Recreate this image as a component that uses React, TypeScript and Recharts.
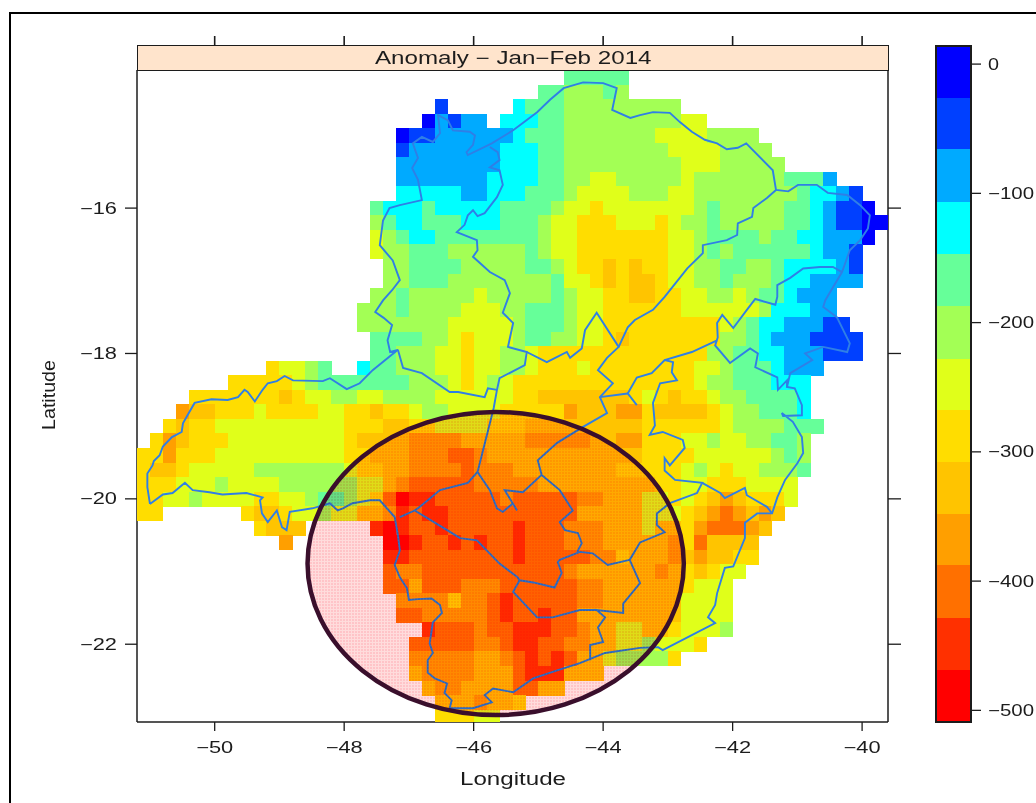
import { Scatter, ScatterChart, XAxis, YAxis } from 'recharts'

const lonTicks = [-50, -48, -46, -44, -42, -40]
const latTicks = [-22, -20, -18, -16]
const legendTicks = [0, -100, -200, -300, -400, -500]

// colour bands, top of the legend to the bottom
const bandColors = ['#0000FF', '#0040FF', '#00AAFF', '#00FFFF', '#66FF99', '#A3FF55', '#E0FF1A', '#FFDD00', '#FFC400', '#FF9F00', '#FF7000', '#FF3000', '#FF0000']
const bandValues = [-6, -46, -86, -127, -167, -207, -248, -288, -328, -368, -408, -449, -489]

// one row per 0.2 degree of latitude from -14.2 down: first column, then a band code per cell (0-9, a, b, c)
const anomalyRows: [number, string][] = [
  [33, '44444'],
  [31, '44 555 4 5'],
  [23, '1 ..... 3 4 44 555555555'],
  [22, '0 2 1 22 . 333 44 555555555 66'],
  [20, '0 11 222222 3 444 5555555 6666 5555'],
  [20, '1 2222222 333 44 55555555 6666 5555'],
  [20, '22222222 333 44 555555555 666 55555'],
  [20, '2222222 3333 44 55 66 55555 6 5555555 444 2'],
  [20, '33333 22 333 444 5 6666 555 66 55555555 4 33 2 1'],
  [18, '4 333 4 33333 4444 5 66 7 6666666 5 4 55555 44 3 2 11 0'],
  [18, '5 4 33 444 333 444 5 66 777 666 7 6 55 4 55555 44 3 2 11 00'],
  [18, '6 5 4 33 44444444 5 66 7777777 66 5 4444 5 44 33 222 0'],
  [18, '6 55 444 555555 4 5 66 7777777 66 5 4 5 444444 3 22 1'],
  [19, '55 4444 55555 44 5 6 77 8 7 8 77 66 55 44 55 4 3333 2 1'],
  [19, '55 444 55555555 4 66 7 8 7 88 7 66 55 4 555 4 33 2222'],
  [18, '55 4 55555 6 55555 4 5 66 77 88 77 66 55 6 5 44 3 222'],
  [17, '555 4 5555 666 55 444 5 66 777777 666666 5 333 22'],
  [17, '5555555 66666 5 444 5 66 777777777 6 5 4 33 222 11'],
  [18, '4444 55 6 7 666 5 44 55 66 7 8 7777777 55 4 3 222 1111'],
  [18, '44 555 66 7 66 55 6 7777777777777 55 44 33 222 111'],
  [10, '7 66 5 4 .. 3 44 555 66 7 66 55 6 777 6 77777777 66 5 444 3 222'],
  [7, '77777 6 5 4444444 555 6 7 6 5 6 77777777777777 6 55 444 333'],
  [4, '7777777 8 7 66 55 66 5555 666666 77 8888888 7 6 7 8 77 6 55 4444 3'],
  [3, '9 88 777 6 7777 66 77 8 77 6 55 6666 77777 9 888 99 7 8888 7 6 55 444 3'],
  [2, '7 8 77 6666666666 777 88 77 6666 777 8 8888 888 8 777777 6 5555 44 4'],
  [1, '7 9 8 777 666666666 7 8888 9999 88888 99999 88 99 777 66 5 66 55 44 5'],
  [0, '77 9 777 6666666666 77 888 999 aa 9 8888888888 88 777 7 666666 5 4 5'],
  [0, '7 88 7 66666 5555555 6 77 88 9999 a 999 88888888 777 77 6 5 6 7 66 55 5 4'],
  [0, '777 666 5 6666 55555 5 66 8 9 aaaaa 99999 888888 888 77 66 777 6666'],
  [0, '77 66 5 6666 77 66 5 4 4 5 6 7 a c bb aa aaa 9 aaaaa 99 888 66 7 6 7 8 9 8 77 7 6'],
  [0, '77 ...... 7 88 7 66 5 66 88 9 b a bb aaaaaaaaa a 88888 666 7 8 9 a 9 8 9 8'],
  [9, '7 88 8 ..... b c b aa b aaaaa b a aa 9 99 888 6 88 7 9 aaa 9 8'],
  [11, '9 ....... cc b aa b a b aa b aaa 9 99 88888 9 7 a 888 8'],
  [19, 'bb aaaaaaaa b aaa a a 99 7 888 9 8 9 88 77'],
  [19, 'a 99 aaaaaaaaa aa 9 88 8888 9 8 7 8 7 66'],
  [19, 'aa 8 aaa 999 aaaaaa 99 888888 7 666'],
  [20, '9999 7 99 a b aaaaa 99 888888 6666'],
  [20, 'aa 99999 a b aa b aa 88 888888 6666'],
  [22, 'b aaa 9 aa bbb aa 9 88 66 88 7 666 5'],
  [21, 'aaaaa 99 a bb aa 9 9 88 66 5 666 7'],
  [21, '99 999 88 9 a b a b a 88 6 55 55 7'],
  [21, '8 9999 888 a bbb 888'],
  [22, '8 99 8888 aa 88'],
  [23, '888 9 88 7'],
  [23, '777 66'],
]

// state outline and internal region borders, read as [lon, lat]
const stateOutline = [
  [-51.0, -20.07], [-51.04, -19.84], [-51.04, -19.65], [-50.96, -19.54], [-50.94, -19.48], [-50.85, -19.4], [-50.8, -19.28], [-50.66, -19.15],
  [-50.51, -19.08], [-50.49, -18.96], [-50.42, -18.85], [-50.31, -18.68], [-50.05, -18.63], [-49.8, -18.64], [-49.64, -18.6], [-49.54, -18.5],
  [-49.49, -18.53], [-49.38, -18.66], [-49.26, -18.5], [-49.18, -18.41], [-49.04, -18.38], [-48.92, -18.31], [-48.79, -18.37], [-48.33, -18.38],
  [-48.22, -18.34], [-47.96, -18.49], [-47.76, -18.41], [-47.56, -18.23], [-47.17, -17.95], [-47.29, -17.98], [-47.33, -17.82], [-47.26, -17.61],
  [-47.39, -17.51], [-47.52, -17.43], [-47.4, -17.27], [-47.26, -17.13], [-47.14, -16.99], [-47.25, -16.72], [-47.45, -16.51], [-47.4, -16.17],
  [-47.3, -16.0], [-47.14, -15.96], [-46.8, -15.89], [-46.86, -15.61], [-46.95, -15.45], [-46.86, -15.31], [-46.94, -15.11], [-46.8, -15.02],
  [-46.63, -15.09], [-46.52, -14.97], [-46.55, -14.72], [-46.4, -14.79], [-46.32, -14.93], [-46.06, -14.95], [-45.98, -15.0], [-46.01, -15.13],
  [-46.11, -15.23], [-46.09, -15.27], [-45.72, -15.11], [-45.39, -14.93], [-45.02, -14.68], [-44.82, -14.51], [-44.61, -14.35], [-44.31, -14.27],
  [-44.0, -14.28], [-43.79, -14.35], [-43.86, -14.65], [-43.58, -14.76], [-43.43, -14.72], [-43.23, -14.68], [-42.97, -14.69], [-42.81, -14.82],
  [-42.63, -14.95], [-42.43, -15.06], [-42.24, -15.11], [-42.09, -15.19], [-41.92, -15.17], [-41.79, -15.11], [-41.38, -15.48], [-41.33, -15.75],
  [-41.14, -15.77], [-40.99, -15.68], [-40.7, -15.68], [-40.53, -15.79], [-40.23, -15.82], [-40.03, -15.96], [-39.88, -16.1], [-39.91, -16.28],
  [-40.03, -16.44], [-40.19, -16.58], [-40.31, -16.88], [-40.57, -17.27], [-40.6, -17.36], [-40.39, -17.5], [-40.19, -17.86], [-40.23, -17.98],
  [-40.6, -17.91], [-40.88, -18.0], [-40.77, -18.09], [-41.11, -18.27], [-41.16, -18.46], [-41.04, -18.48], [-40.93, -18.71], [-40.93, -18.85],
  [-41.22, -18.86], [-41.24, -18.82], [-41.07, -18.94], [-40.93, -19.15], [-40.91, -19.37], [-41.0, -19.51], [-41.19, -19.74], [-41.31, -19.98],
  [-41.39, -20.2], [-41.62, -20.2], [-41.81, -20.33], [-41.81, -20.54], [-41.93, -20.8], [-41.99, -20.93], [-42.12, -20.95], [-42.24, -21.3],
  [-42.27, -21.46], [-42.38, -21.63], [-42.27, -21.71], [-43.08, -22.08], [-43.15, -22.04], [-43.43, -22.05], [-43.97, -22.12], [-44.36, -22.26],
  [-44.71, -22.36], [-45.08, -22.47], [-45.39, -22.66], [-45.7, -22.61], [-45.83, -22.7], [-45.72, -22.8], [-46.01, -22.88], [-46.37, -22.88],
  [-46.34, -22.77], [-46.45, -22.67], [-46.41, -22.54], [-46.6, -22.47], [-46.71, -22.39], [-46.71, -22.22], [-46.63, -22.12], [-46.68, -21.99],
  [-46.63, -21.7], [-46.49, -21.57], [-46.52, -21.46], [-46.65, -21.37], [-46.86, -21.38], [-47.0, -21.39], [-47.03, -21.23], [-47.14, -21.08],
  [-47.22, -20.91], [-47.14, -20.71], [-47.17, -20.5], [-47.22, -20.25], [-47.45, -20.02], [-47.6, -20.02], [-47.87, -20.06], [-48.02, -20.13],
  [-48.1, -20.16], [-48.22, -20.06], [-48.49, -20.13], [-48.84, -20.18], [-48.89, -20.43], [-48.96, -20.39], [-49.04, -20.16], [-49.18, -20.32],
  [-49.27, -20.2], [-49.3, -20.02], [-49.26, -19.98], [-49.51, -19.92], [-49.88, -19.94], [-50.08, -19.91], [-50.34, -19.88], [-50.46, -19.78],
  [-50.65, -19.92], [-50.8, -19.94], [-51.0, -20.07],
]
const regionBorders = [
  [[-45.75, -15.16], [-45.63, -15.23], [-45.6, -15.34], [-45.75, -15.44], [-45.6, -15.48], [-45.55, -15.68], [-45.64, -15.85], [-45.83, -16.07], [-45.94, -16.11], [-46.01, -16.03], [-46.09, -16.1], [-46.14, -16.23], [-46.26, -16.33], [-45.95, -16.44], [-45.94, -16.58], [-46.01, -16.67], [-45.75, -16.88], [-45.52, -16.99], [-45.44, -17.17], [-45.55, -17.44], [-45.39, -17.58], [-45.47, -17.91], [-45.18, -17.98], [-45.21, -18.16], [-45.6, -18.34], [-45.64, -18.5], [-45.69, -18.75], [-45.94, -19.63], [-45.75, -19.88], [-45.64, -20.13], [-45.55, -20.18], [-45.39, -20.06]],
  [[-47.17, -17.95], [-47.09, -18.2], [-46.8, -18.27], [-46.37, -18.53], [-46.24, -18.53], [-45.83, -18.6], [-45.78, -18.48], [-45.64, -18.5]],
  [[-45.18, -17.98], [-44.87, -18.12], [-44.56, -17.98], [-44.51, -18.06], [-44.33, -17.93], [-44.28, -17.68], [-44.1, -17.44], [-43.76, -17.91], [-43.94, -18.06], [-44.08, -18.23], [-43.85, -18.41], [-44.05, -18.6], [-43.94, -18.82], [-44.31, -19.01], [-44.71, -19.23], [-45.01, -19.47], [-44.95, -19.67], [-44.67, -19.88], [-44.47, -20.16], [-44.67, -20.32], [-44.59, -20.43], [-44.39, -20.47], [-44.33, -20.61], [-44.4, -20.73]],
  [[-44.95, -19.67], [-45.24, -19.91], [-45.52, -19.88], [-45.33, -20.16]],
  [[-43.76, -17.91], [-43.62, -17.64], [-43.51, -17.54], [-43.23, -17.4], [-43.05, -17.22], [-42.7, -16.83], [-42.46, -16.62], [-42.46, -16.51], [-42.09, -16.44], [-41.93, -16.37], [-41.92, -16.21], [-41.7, -16.12], [-41.68, -16.0], [-41.47, -15.86], [-41.33, -15.75]],
  [[-40.31, -16.88], [-40.45, -16.81], [-40.65, -16.81], [-40.91, -16.83], [-41.11, -16.96], [-41.31, -17.06], [-41.31, -17.22], [-41.34, -17.33], [-41.65, -17.25], [-41.78, -17.4], [-41.99, -17.65], [-42.16, -17.47], [-42.24, -17.58], [-42.23, -17.78], [-42.27, -17.89], [-42.04, -18.13], [-41.73, -17.93], [-41.61, -18.0], [-41.65, -18.19], [-41.31, -18.33], [-41.3, -18.5], [-41.16, -18.37], [-41.16, -18.46]],
  [[-42.24, -17.82], [-42.63, -17.98], [-43.05, -18.09], [-43.25, -18.27], [-43.48, -18.33], [-43.62, -18.55], [-43.48, -18.71]],
  [[-43.62, -18.55], [-44.05, -18.6]],
  [[-43.05, -18.09], [-42.92, -18.12], [-42.94, -18.26], [-42.86, -18.37], [-43.12, -18.41], [-43.23, -18.68], [-43.2, -18.99], [-43.28, -19.12], [-43.08, -19.08], [-42.77, -19.19], [-42.74, -19.3], [-42.97, -19.54], [-43.05, -19.44], [-43.05, -19.61], [-42.89, -19.74], [-42.47, -19.78], [-42.55, -19.92], [-42.97, -20.06], [-43.17, -20.2], [-43.17, -20.36], [-43.05, -20.46], [-43.43, -20.6], [-43.59, -20.84], [-43.43, -21.16], [-43.69, -21.44], [-43.69, -21.57], [-44.1, -21.53], [-43.97, -21.63], [-44.08, -21.77], [-44.0, -21.97], [-44.2, -22.01], [-44.2, -22.22]],
  [[-42.47, -19.78], [-42.19, -19.92], [-42.12, -19.99], [-41.81, -19.85], [-41.78, -19.95], [-41.47, -20.11], [-41.39, -20.2]],
  [[-43.59, -20.84], [-43.93, -20.91], [-44.16, -20.75], [-44.36, -20.73], [-44.67, -20.84], [-44.7, -20.87], [-44.64, -21.02], [-44.75, -21.22], [-45.08, -21.15], [-45.29, -21.12], [-45.32, -21.08], [-45.6, -20.89], [-45.95, -20.57], [-46.21, -20.54], [-46.41, -20.43], [-46.91, -20.16], [-47.14, -20.25]],
  [[-45.29, -21.12], [-45.39, -21.28], [-45.02, -21.63], [-44.78, -21.63], [-44.36, -21.53], [-44.1, -21.53]],
  [[-46.91, -20.16], [-46.83, -20.11], [-46.52, -19.88], [-46.09, -19.78], [-45.94, -19.63]],
]
const circledArea = { lon: -45.66, lat: -20.89, radiusLon: 2.906, radiusLat: 2.085 }

const lonDomain: [number, number] = [-51.2, -39.6]
const latDomain: [number, number] = [-23.07, -14.1]
const legendDomain: [number, number] = [-509, 14]

const PLOT_W = 751
const PLOT_H = 652
const pxPerLon = PLOT_W / (lonDomain[1] - lonDomain[0])
const pxPerLat = PLOT_H / (latDomain[1] - latDomain[0])
const LEGEND_H = 676
const legendBandH = (LEGEND_H * 40.23) / (legendDomain[1] - legendDomain[0])

const ink = '#1c1c1c'
const font = '"Liberation Sans", Arial, sans-serif'
const borderBlue = '#2f7fe6'

const cells = anomalyRows.flatMap(([first, codes], row) =>
  codes
    .replace(/ /g, '')
    .split('')
    .flatMap((code, i) =>
      code === '.'
        ? []
        : [{ lon: -51.1 + 0.2 * (first + i), lat: -14.2 - 0.2 * row, anomaly: bandValues[parseInt(code, 13)] }],
    ),
)
const legendCells = bandValues.map((anomaly) => ({ x: 0.5, anomaly }))
const topTickPoints = lonTicks.map((lon) => ({ lon, lat: latDomain[1] }))

const colorOf = (anomaly: number) => bandColors[bandValues.indexOf(anomaly)]
const toPoints = (line: number[][]) => line.map(([lon, lat]) => ({ lon, lat }))
const minus = (value: number) => String(value).replace('-', '\u2212')

function CellMark({ cx, cy, payload }: any) {
  const w = 0.2 * pxPerLon
  const h = 0.2 * pxPerLat
  return <rect x={cx - w / 2} y={cy - h / 2} width={w + 0.4} height={h + 0.4} fill={colorOf(payload.anomaly)} shapeRendering="crispEdges" />
}

function LegendMark({ cx, cy, payload }: any) {
  return <rect x={cx - 18} y={cy - legendBandH / 2} width={36} height={legendBandH + 1} fill={colorOf(payload.anomaly)} shapeRendering="crispEdges" />
}

function CircleWash({ cx, cy }: any) {
  return (
    <ellipse
      cx={cx}
      cy={cy}
      rx={circledArea.radiusLon * pxPerLon}
      ry={circledArea.radiusLat * pxPerLat}
      fill="url(#washDots)"
      style={{ mixBlendMode: 'multiply' }}
    />
  )
}

function CircleRing({ cx, cy }: any) {
  return (
    <ellipse
      cx={cx}
      cy={cy}
      rx={circledArea.radiusLon * pxPerLon}
      ry={circledArea.radiusLat * pxPerLat}
      fill="none"
      stroke="#3a0f2c"
      strokeWidth={4.5}
    />
  )
}

// the strip sits between the plot and its top ticks
function TopTick({ cx, cy }: any) {
  return <line x1={cx} x2={cx} y1={cy - 25} y2={cy - 34} stroke={ink} strokeWidth={1.6} />
}

const NoMark = () => <g />

// R's lattice stretches its text, so tick labels get a fixed length per character count
function WideTick({ x, y, payload, textAnchor }: any) {
  const text = minus(payload.value)
  if (text === '') return null
  const length = text.length === 1 ? 11 : text.length === 3 ? 37 : 46
  return (
    <text x={x} y={y} textAnchor={textAnchor} dominantBaseline="central" textLength={length} lengthAdjust="spacingAndGlyphs" fontSize={16} fill={ink} fontFamily={font}>
      {text}
    </text>
  )
}

const XTick = (props: any) => <WideTick {...props} y={747} textAnchor="middle" />
const LeftTick = (props: any) => <WideTick {...props} textAnchor="end" />
const LegendTick = (props: any) => <WideTick {...props} textAnchor="start" />

const LongitudeTitle = () => (
  <text x={513} y={785} textAnchor="middle" textLength={106} lengthAdjust="spacingAndGlyphs" fontSize={18} fill={ink} fontFamily={font}>
    Longitude
  </text>
)
const LatitudeTitle = () => (
  <text x={55} y={395} transform="rotate(-90 55 395)" textAnchor="middle" textLength={70} lengthAdjust="spacingAndGlyphs" fontSize={18} fill={ink} fontFamily={font}>
    Latitude
  </text>
)

export default function App() {
  const axisLine = { stroke: ink, strokeWidth: 1.5 }
  const tickLine = { stroke: ink, strokeWidth: 1.3 }

  return (
    <div style={{ position: 'absolute', left: 0, top: 0, width: 1036, height: 803, background: '#fff', overflow: 'hidden' }}>
      <div style={{ position: 'absolute', left: 9, top: 12, width: 1027, height: 791, borderTop: '2.5px solid #000', borderLeft: '2.5px solid #000' }} />

      <div style={{ position: 'absolute', left: 0, top: 0 }}>
        <ScatterChart width={1036} height={803} margin={{ top: 70, right: 118, bottom: 11, left: 17 }}>
          <defs>
            <pattern id="washDots" width="3" height="3" patternUnits="userSpaceOnUse">
              <rect width="3" height="3" fill="#ffc4c8" />
              <rect width="1" height="3" fill="#ffdcdc" />
              <rect width="3" height="1" fill="#ffdcdc" />
            </pattern>
          </defs>
          <XAxis
            type="number"
            dataKey="lon"
            domain={lonDomain}
            ticks={lonTicks}
            interval={0}
            allowDataOverflow
            height={70}
            tickSize={9}
            tick={XTick}
            axisLine={axisLine}
            tickLine={tickLine}
            label={{ content: LongitudeTitle }}
          />
          <XAxis xAxisId="wash" type="number" dataKey="lon" domain={lonDomain} hide />
          <YAxis
            type="number"
            dataKey="lat"
            domain={latDomain}
            ticks={latTicks}
            interval={0}
            allowDataOverflow
            width={120}
            tickSize={12}
            tickMargin={8}
            tick={LeftTick}
            axisLine={axisLine}
            tickLine={tickLine}
            label={{ content: LatitudeTitle }}
          />
          <YAxis yAxisId="right" orientation="right" type="number" domain={latDomain} ticks={latTicks} interval={0} allowDataOverflow width={30} tickSize={13} tickFormatter={() => ''} axisLine={axisLine} tickLine={tickLine} />
          <YAxis yAxisId="wash" type="number" dataKey="lat" domain={latDomain} hide />

          <Scatter data={cells} shape={CellMark} isAnimationActive={false} />
          {[stateOutline, ...regionBorders].map((line, i) => (
            <Scatter key={i} data={toPoints(line)} line={{ stroke: borderBlue, strokeWidth: 1.9 }} lineType="joint" shape={NoMark} isAnimationActive={false} />
          ))}
          <Scatter xAxisId="wash" yAxisId="wash" data={[circledArea]} shape={CircleWash} isAnimationActive={false} />
          <Scatter xAxisId="wash" yAxisId="wash" data={[circledArea]} shape={CircleRing} isAnimationActive={false} />
          <Scatter xAxisId="wash" yAxisId="wash" data={topTickPoints} shape={TopTick} isAnimationActive={false} />
        </ScatterChart>
      </div>

      <div
        style={{
          position: 'absolute',
          left: 137,
          top: 45,
          width: 752,
          height: 25.5,
          boxSizing: 'border-box',
          border: `1.5px solid ${ink}`,
          background: '#ffe4cc',
          color: ink,
          fontFamily: font,
          fontSize: 17.5,
          lineHeight: '25px',
          textAlign: 'center',
        }}
      >
        <span style={{ display: 'inline-block', transform: 'scaleX(1.38)' }}>{'Anomaly \u2212 Jan\u2212Feb 2014'}</span>
      </div>

      <div style={{ position: 'absolute', left: 900, top: 0 }}>
        <ScatterChart width={136} height={803} margin={{ top: 46, right: 0, bottom: 81, left: 36 }}>
          <XAxis type="number" dataKey="x" domain={[0, 1]} hide />
          <YAxis
            type="number"
            dataKey="anomaly"
            orientation="right"
            domain={legendDomain}
            ticks={legendTicks}
            interval={0}
            allowDataOverflow
            width={65}
            tickSize={10}
            tickMargin={7}
            tick={LegendTick}
            axisLine={axisLine}
            tickLine={tickLine}
          />
          <Scatter data={legendCells} shape={LegendMark} isAnimationActive={false} />
        </ScatterChart>
      </div>
      <div style={{ position: 'absolute', left: 935, top: 45, width: 37, height: 678, boxSizing: 'border-box', border: `2px solid ${ink}`, pointerEvents: 'none' }} />
    </div>
  )
}
